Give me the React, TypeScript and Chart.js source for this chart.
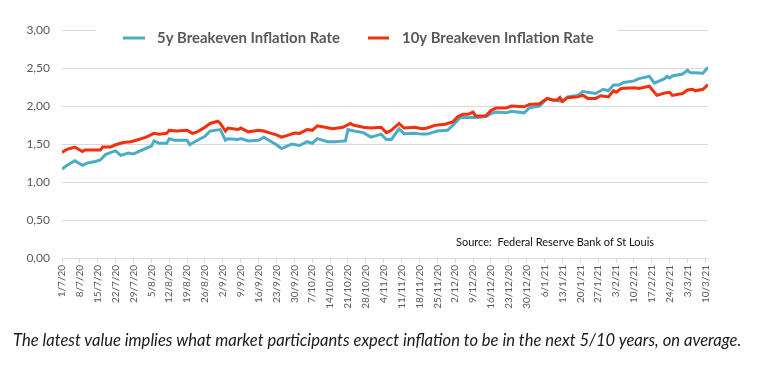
import React, { useEffect, useRef } from "react";
import { Chart, registerables } from "chart.js";

Chart.register(...registerables);

// Day offsets are counted from 1 July 2020.
const tickLabels = [
  "1/7/20", "8/7/20", "15/7/20", "22/7/20", "29/7/20", "5/8/20", "12/8/20", "19/8/20",
  "26/8/20", "2/9/20", "9/9/20", "16/9/20", "23/9/20", "30/9/20", "7/10/20", "14/10/20",
  "21/10/20", "28/10/20", "4/11/20", "11/11/20", "18/11/20", "25/11/20", "2/12/20", "9/12/20",
  "16/12/20", "23/12/20", "30/12/20", "6/1/21", "13/1/21", "20/1/21", "27/1/21", "3/2/21",
  "10/2/21", "17/2/21", "24/2/21", "3/3/21", "10/3/21",
];
const tickDays = [
  0, 7, 14, 21, 28, 35, 42, 49, 56, 63, 70, 77, 84, 91, 98, 105, 112, 119, 126, 133, 140,
  147, 154, 161, 168, 175, 182, 189, 196, 203, 210, 217, 224, 231, 238, 245, 252,
];
const yTicks = [0, 0.5, 1, 1.5, 2, 2.5, 3];

const fiveYearDays = [
  0, 2, 5, 8, 10, 13, 15, 17, 20, 21, 23, 26, 28, 30, 34, 35, 36, 38, 41, 42, 44, 49, 50, 52,
  56, 58, 62, 64, 65, 69, 70, 73, 77, 79, 83, 84, 86, 90, 93, 96, 98, 100, 104, 107, 111, 112,
  116, 118, 121, 125, 127, 129, 132, 134, 138, 141, 143, 147, 151, 153, 156, 159, 163, 166, 168,
  170, 174, 176, 181, 183, 187, 190, 192, 196, 198, 202, 204, 209, 212, 214, 216, 218, 220, 224,
  226, 230, 232, 236, 237, 238, 239, 243, 245, 246, 251, 253,
];
const fiveYearValues = [
  1.17, 1.22, 1.28, 1.22, 1.25, 1.27, 1.29, 1.36, 1.4, 1.41, 1.35, 1.38, 1.37, 1.4, 1.46, 1.47,
  1.54, 1.51, 1.51, 1.57, 1.55, 1.55, 1.49, 1.53, 1.6, 1.67, 1.69, 1.55, 1.57, 1.56, 1.57, 1.54,
  1.55, 1.59, 1.51, 1.49, 1.44, 1.5, 1.48, 1.53, 1.51, 1.57, 1.53, 1.53, 1.54, 1.69, 1.66, 1.65,
  1.59, 1.63, 1.56, 1.56, 1.7, 1.635, 1.64, 1.63, 1.63, 1.67, 1.68, 1.745, 1.85, 1.85, 1.85, 1.86,
  1.9, 1.92, 1.91, 1.93, 1.91, 1.975, 2.0, 2.1, 2.08, 2.06, 2.12, 2.14, 2.19, 2.165, 2.22, 2.2,
  2.275, 2.275, 2.31, 2.33, 2.36, 2.39, 2.3, 2.36, 2.39, 2.37, 2.395, 2.42, 2.47, 2.44, 2.43, 2.51,
];

const tenYearDays = [
  0, 2, 5, 8, 9, 15, 16, 19, 21, 24, 27, 29, 33, 36, 38, 41, 42, 45, 49, 51, 53, 56, 58, 61, 62,
  64, 65, 69, 70, 73, 77, 79, 82, 84, 86, 88, 91, 93, 96, 98, 100, 103, 106, 110, 113, 114, 118,
  121, 125, 127, 129, 132, 134, 138, 141, 143, 146, 150, 153, 155, 157, 159, 161, 162, 166, 168,
  170, 174, 176, 181, 183, 187, 190, 192, 194, 195, 196, 198, 202, 204, 206, 209, 211, 214, 216,
  217, 219, 224, 226, 230, 233, 236, 238, 239, 243, 245, 247, 248, 251, 253,
];
const tenYearValues = [
  1.39, 1.43, 1.46, 1.4, 1.42, 1.42, 1.46, 1.46, 1.49, 1.52, 1.53, 1.55, 1.59, 1.64, 1.63, 1.64,
  1.68, 1.67, 1.68, 1.64, 1.66, 1.72, 1.77, 1.8, 1.77, 1.67, 1.71, 1.69, 1.71, 1.66, 1.68, 1.67,
  1.64, 1.62, 1.59, 1.61, 1.645, 1.64, 1.69, 1.68, 1.74, 1.72, 1.7, 1.72, 1.77, 1.75, 1.72, 1.71,
  1.72, 1.65, 1.68, 1.77, 1.71, 1.72, 1.7, 1.71, 1.745, 1.76, 1.79, 1.86, 1.89, 1.89, 1.92, 1.87,
  1.87, 1.94, 1.975, 1.975, 2.0, 1.99, 2.02, 2.03, 2.1, 2.08, 2.08, 2.11, 2.06, 2.11, 2.12, 2.14,
  2.1, 2.1, 2.135, 2.12, 2.2, 2.18, 2.23, 2.24, 2.23, 2.26, 2.14, 2.17, 2.18, 2.14, 2.165, 2.21,
  2.22, 2.2, 2.22, 2.28,
];

const seriesNames = ["5y Breakeven Inflation Rate", "10y Breakeven Inflation Rate"];
const sourceText = "Source:  Federal Reserve Bank of St Louis";
const captionText =
  "The latest value implies what market participants expect inflation to be in the next 5/10 years, on average.";

const BLUE = "#4BACC6";
const RED = "#F2300C";
const GRID = "#D9D9D9";
const LABEL = "#595959";
const FONT = "Lato, 'Noto Sans', sans-serif";

const legendPlugin = {
  id: "customLegend",
  afterDraw(chart: any) {
    const ctx = chart.ctx as CanvasRenderingContext2D;
    ctx.save();
    // white box behind legend (hides top gridline like the original)
    ctx.fillStyle = "#ffffff";
    ctx.fillRect(96, 26, 522, 8);

    const y = 38;
    const items = [
      { color: BLUE, x0: 123, x1: 145, tx: 157, text: seriesNames[0] },
      { color: RED, x0: 368, x1: 389, tx: 402, text: seriesNames[1] },
    ];
    ctx.font = `bold 14px ${FONT}`;
    const m = ctx.measureText(seriesNames[0]).width;
    const size = (14 * 183) / m;
    for (const it of items) {
      ctx.strokeStyle = it.color;
      ctx.lineWidth = 3;
      ctx.beginPath();
      ctx.moveTo(it.x0, y);
      ctx.lineTo(it.x1, y);
      ctx.stroke();
      ctx.font = `bold ${size.toFixed(2)}px ${FONT}`;
      ctx.fillStyle = LABEL;
      ctx.textBaseline = "middle";
      ctx.textAlign = "left";
      ctx.fillText(it.text, it.tx, y);
    }
    ctx.font = `11px ${FONT}`;
    ctx.fillStyle = "#111111";
    ctx.fillText(sourceText, 456, 242);
    ctx.restore();
  },
};

export default function App() {
  const canvasRef = useRef<HTMLCanvasElement | null>(null);

  useEffect(() => {
    const canvas = canvasRef.current;
    if (!canvas) return;
    const chart = new Chart(canvas, {
      type: "line",
      data: {
        datasets: [
          {
            label: seriesNames[0],
            data: fiveYearDays.map((d, i) => ({ x: d, y: fiveYearValues[i] })),
            borderColor: BLUE,
            backgroundColor: BLUE,
            borderWidth: 3,
            pointRadius: 0,
            tension: 0,
            order: 2,
          },
          {
            label: seriesNames[1],
            data: tenYearDays.map((d, i) => ({ x: d, y: tenYearValues[i] })),
            borderColor: RED,
            backgroundColor: RED,
            borderWidth: 3,
            pointRadius: 0,
            tension: 0,
            order: 1,
          },
        ],
      },
      options: {
        responsive: false,
        animation: false,
        events: [],
        layout: { padding: { top: 30, right: 60, left: 0, bottom: 0 } },
        plugins: { legend: { display: false }, tooltip: { enabled: false } },
        scales: {
          x: {
            type: "linear",
            min: 0,
            max: 253,
            afterBuildTicks: (s: any) => {
              s.ticks = tickDays.map((v) => ({ value: v }));
            },
            afterFit: (s: any) => {
              s.height = 111;
            },
            ticks: {
              autoSkip: false,
              minRotation: 90,
              maxRotation: 90,
              padding: 2,
              color: LABEL,
              font: { family: FONT, size: 10 },
              callback: (_v: any, i: number) => tickLabels[i],
            },
            grid: { drawOnChartArea: false, tickLength: 5, color: GRID, lineWidth: 1 },
            border: { color: GRID, width: 1 },
          },
          y: {
            min: 0,
            max: 3,
            afterBuildTicks: (s: any) => {
              s.ticks = yTicks.map((v) => ({ value: v }));
            },
            afterFit: (s: any) => {
              s.width = 62;
            },
            ticks: {
              padding: 12,
              color: LABEL,
              font: { family: FONT, size: 12 },
              callback: (v: any) => Number(v).toFixed(2).replace(".", ","),
            },
            grid: { color: GRID, lineWidth: 1, drawTicks: false },
            border: { display: false },
          },
        },
      },
      plugins: [legendPlugin],
    });
    return () => chart.destroy();
  }, []);

  return (
    <div
      style={{
        position: "absolute",
        left: 0,
        top: 0,
        width: 768,
        height: 369,
        background: "#ffffff",
        overflow: "hidden",
      }}
    >
      <canvas
        ref={canvasRef}
        width={768}
        height={369}
        style={{ position: "absolute", left: 0, top: 0, width: 768, height: 369 }}
      />
      <div
        style={{
          position: "absolute",
          left: 13,
          top: 330,
          fontFamily: FONT,
          fontStyle: "italic",
          fontSize: 17,
          color: "#1a1a1a",
          whiteSpace: "nowrap",
          transform: "scaleX(0.975)",
          transformOrigin: "left center",
          lineHeight: "20px",
        }}
      >
        {captionText}
      </div>
    </div>
  );
}
